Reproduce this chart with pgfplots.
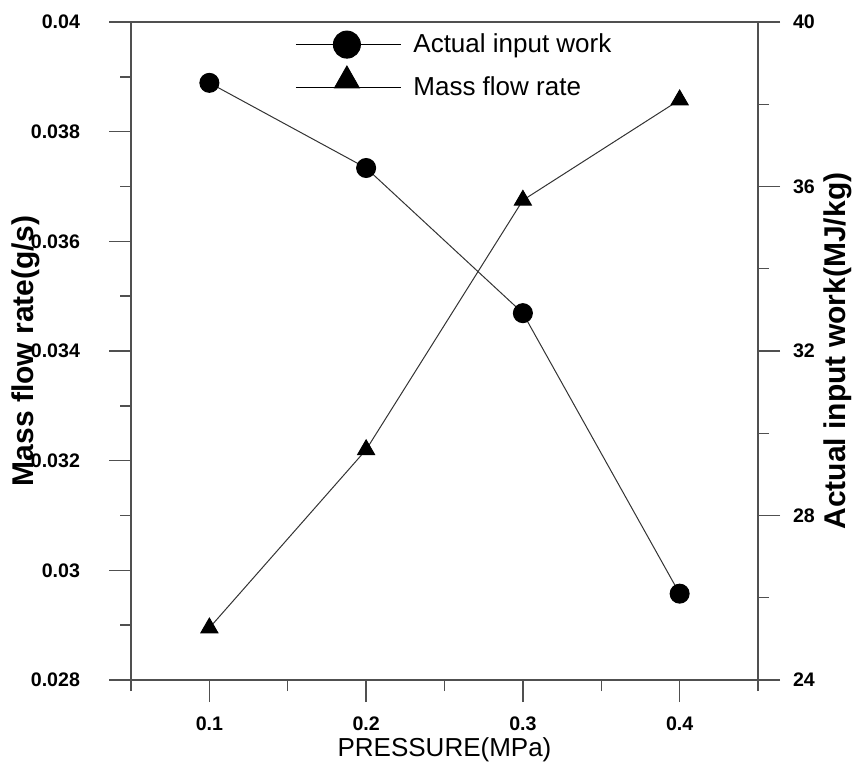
\documentclass[border=0pt]{standalone}
\usepackage{pgfplots}
\pgfplotsset{compat=1.18}
\usepackage{fontspec}
\setmainfont{Liberation Sans}
\usetikzlibrary{calc}
\definecolor{axisgray}{HTML}{505050}
\begin{document}
\begin{tikzpicture}
\pgfplotsset{
  every axis/.append style={
    scale only axis, width=313.5pt, height=329pt,
    xmin=0.05, xmax=0.45,
    scaled x ticks=false, scaled y ticks=false,
    tick align=outside,
    major tick length=11pt, minor tick length=5.5pt,
    axis line style={draw=axisgray, line width=0.7pt},
    every tick/.style={draw=axisgray, line width=0.7pt},
    tick label style={font=\fontsize{9.8}{10}\selectfont\bfseries},
    every axis y label/.style={rotate=90, anchor=center, font=\fontsize{15}{17}\selectfont\bfseries},
    every axis x label/.style={anchor=center, font=\fontsize{13}{15}\selectfont},
  },
}
% left axis: mass flow rate
\begin{axis}[name=ax,
  ymin=0.028, ymax=0.04,
  xtick={0.1,0.2,0.3,0.4}, xticklabels={0.1,0.2,0.3,0.4},
  minor xtick={0.05,0.15,0.25,0.35,0.45},
  ytick={0.028,0.030,0.032,0.034,0.036,0.038,0.040},
  yticklabels={0.028,0.03,0.032,0.034,0.036,0.038,0.04},
  minor ytick={0.029,0.031,0.033,0.035,0.037,0.039},
  xtick pos=lower, ytick pos=left,
  xticklabel style={yshift=-4pt},
  yticklabel style={xshift=-11pt},
  xlabel={PRESSURE(MPa)},
  ylabel={Mass flow rate(g/s)},
  xlabel style={at={(axis description cs:0.5,-0.106)}},
  ylabel style={at={(axis description cs:-0.168,0.5)}},
]
\addplot[black!80, line width=0.5pt, mark=triangle*, mark size=4.9pt,
  mark options={fill=black, draw=black, solid}] coordinates {
  (0.1,0.02895) (0.2,0.03220) (0.3,0.03675) (0.4,0.03858)
};
\end{axis}
% right axis: actual input work
\begin{axis}[
  ymin=24, ymax=40,
  axis y line*=right, axis x line=none,
  ytick={24,28,32,36,40}, yticklabels={24,28,32,36,40},
  minor ytick={26,30,34,38},
  yticklabel style={xshift=3pt},
  ylabel={Actual input work(MJ/kg)},
  ylabel style={at={(axis description cs:1.128,0.5)}},
  legend style={at={(axis description cs:0.252,0.995)}, anchor=north west,
    draw=none, fill=none, font=\fontsize{13}{15}\selectfont,
    row sep=3pt, /tikz/every odd column/.append style={column sep=4pt}},
  legend cell align=left,
]
\addplot[black!80, line width=0.5pt, mark=*, mark size=4.75pt,
  mark options={fill=black, draw=black, solid},
  legend image code/.code={
    \draw[black, line width=0.5pt] (0pt,0pt) -- (52.5pt,0pt);
    \fill[black] (25.5pt,0pt) circle (6.75pt);
  }] coordinates {
  (0.1,38.52) (0.2,36.45) (0.3,32.92) (0.4,26.10)
};
\addlegendentry{Actual input work}
\addlegendimage{legend image code/.code={
    \draw[black, line width=0.5pt] (0pt,0pt) -- (52.5pt,0pt);
    \fill[black] (19.25pt,0pt) -- (31.75pt,0pt) -- (25.5pt,11pt) -- cycle;
  }}
\addlegendentry{Mass flow rate}
\end{axis}
\pgfresetboundingbox
\path ($(ax.south west)+(-65.5pt,-45.5pt)$) rectangle ($(ax.north east)+(49.5pt,11pt)$);
\end{tikzpicture}
\end{document}
